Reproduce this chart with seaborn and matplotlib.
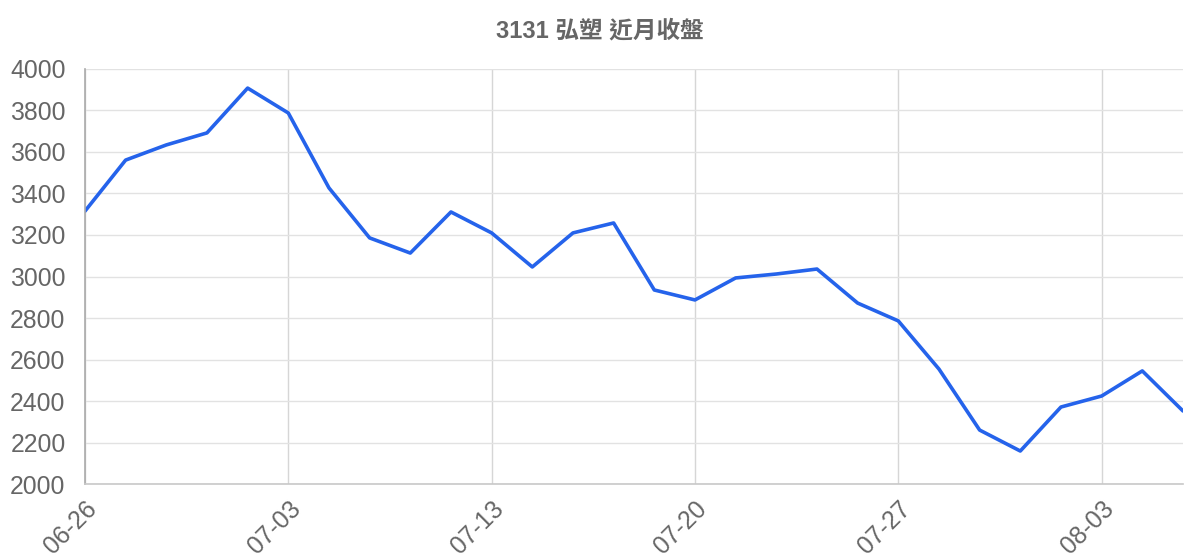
import seaborn as sns
import pandas as pd
import matplotlib.pyplot as plt

dates = ["06-26", "06-29", "06-30", "07-01", "07-02", "07-03", "07-06",
         "07-07", "07-08", "07-10", "07-13", "07-14", "07-15", "07-16",
         "07-17", "07-20", "07-21", "07-22", "07-23", "07-24", "07-27",
         "07-28", "07-29", "07-30", "07-31", "08-03", "08-04", "08-05"]
close = [3315, 3561, 3634, 3692, 3908, 3788, 3427, 3186, 3113, 3311,
         3210, 3046, 3210, 3258, 2935, 2887, 2993, 3012, 3036, 2872,
         2786, 2554, 2260, 2159, 2371, 2424, 2545, 2352]
yticks = [2000, 2200, 2400, 2600, 2800, 3000, 3200, 3400, 3600, 3800, 4000]

df = pd.DataFrame({"i": range(len(dates)), "date": dates, "close": close})

sns.set_style("whitegrid")
plt.rcParams['font.family'] = ['Liberation Sans', 'Noto Sans CJK TC', 'DejaVu Sans']

fig = plt.figure(figsize=(12, 5.6), dpi=100)
ax = fig.add_axes([0.0708, 0.1357, 0.9150, 0.7411])

sns.lineplot(data=df, x="i", y="close", ax=ax, color="#2563eb", linewidth=2.6)

ax.set_xlim(0, len(dates) - 1)
ax.set_ylim(2000, 4000)
ax.set_yticks(yticks)
tick_idx = list(range(0, len(dates), 5))
ax.set_xticks(tick_idx)
ax.set_xticklabels([dates[i] for i in tick_idx], rotation=45, ha="right",
                   rotation_mode="anchor")
ax.set_xlabel("")
ax.set_ylabel("")

ax.grid(axis="y", color="#e2e2e2", linewidth=1)
ax.grid(axis="x", color="#d6d6d6", linewidth=1)
for s in ["top", "right"]:
    ax.spines[s].set_visible(False)
ax.spines["left"].set_color("#aaaaaa")
ax.spines["bottom"].set_color("#c8c8c8")
ax.spines["left"].set_linewidth(1.2)
ax.spines["bottom"].set_linewidth(1.2)
ax.tick_params(axis="both", length=6, color="#e2e2e2", labelcolor="#666666",
               labelsize=17.8, pad=8)
ax.tick_params(axis="x", length=8, color="#d6d6d6", pad=1)

fig.suptitle("3131 弘塑 近月收盤", y=0.965, fontsize=17, fontweight="bold",
             color="#666666")

plt.savefig("out.png", dpi=100)
